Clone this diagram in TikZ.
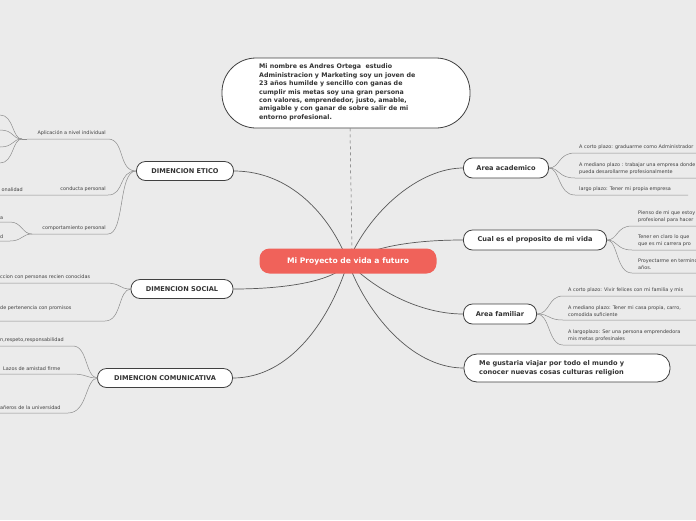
\documentclass[tikz,border=0pt]{standalone}
\usepackage{fontspec}
\setmainfont{DejaVu Sans}
\definecolor{coral}{RGB}{240,98,90}
\begin{document}
\begin{tikzpicture}[x=1pt,y=-1pt,
  topic/.style={draw=black!75,line width=0.8pt,fill=white,rounded corners=9pt,font=\fontsize{6.6}{8}\selectfont\bfseries,text=black!80,inner sep=0pt},
  main/.style={draw=black!65,line width=0.7pt},
  sub/.style={draw=black!45,line width=0.5pt},
  leaf/.style={font=\fontsize{4.9}{7}\selectfont,text=black!75,inner sep=0pt,align=left}]
\fill[black!8] (0,0) rectangle (696,520);
\useasboundingbox (0,0) rectangle (696,520);
\clip (0,0) rectangle (696,520);
% bio
\node[draw=black!75,line width=0.8pt,fill=white,rounded corners=34pt,minimum width=248pt,minimum height=70pt] (bio) at (346,93) {};
\node[font=\fontsize{6.3}{8.4}\selectfont\bfseries,text=black!80,align=left,anchor=north west,inner sep=0pt] (biot) at (259,64) {Mi nombre es Andres Ortega\ \ estudio\\Administracion y Marketing soy un joven de\\23 años humilde y sencillo con ganas de\\cumplir mis metas soy una gran persona\\con valores, emprendedor, justo, amable,\\amigable y con ganar de sobre salir de mi\\entorno profesional.};
% topics
\node[topic,minimum width=97pt,minimum height=19pt] (et) at (185,171) {DIMENCION ETICO};
\node[topic,minimum width=102pt,minimum height=19pt] (so) at (182,289) {DIMENCION SOCIAL};
\node[topic,minimum width=135pt,minimum height=19pt] (co) at (165,378) {DIMENCION COMUNICATIVA};
\node[topic,minimum width=85pt,minimum height=20pt] (ac) at (506,168) {Area academico};
\node[topic,minimum width=143pt,minimum height=20pt] (pr) at (535,240) {Cual es el proposito de mi vida};
\node[topic,minimum width=73pt,minimum height=20pt] (fa) at (500,314) {Area familiar};
\node[topic,minimum width=206pt,minimum height=28pt,rounded corners=13pt] (vi) at (567,368) {};
\node[font=\fontsize{6.6}{8.6}\selectfont\bfseries,text=black!80,align=left,anchor=west,inner sep=0pt] (vit) at (479,368) {Me gustaria viajar por todo el mundo y\\conocer nuevas cosas culturas religion};
% main connectors
\coordinate (cc) at (348,262);
\draw[black!60,dashed,line width=0.5pt] ([xshift=4pt]bio.south) -- (352,250);
\draw[main] (cc) .. controls (330,215) and (290,171) .. (et.east);
\draw[main] (cc) .. controls (338,280) and (290,289) .. (so.east);
\draw[main] (cc) .. controls (330,320) and (290,378) .. (co.east);
\draw[main] (cc) .. controls (370,210) and (420,168) .. (ac.west);
\draw[main] (cc) .. controls (375,245) and (420,240) .. (pr.west);
\draw[main] (cc) .. controls (375,290) and (420,314) .. (fa.west);
\draw[main] (cc) .. controls (365,310) and (410,368) .. (vi.west);
% central
\node[fill=coral,rounded corners=10pt,minimum width=177pt,minimum height=25pt,text=white,font=\fontsize{7.6}{9}\selectfont\bfseries,inner sep=0pt] (c) at (348,261) {Mi Proyecto de vida a futuro};
% ETICO leaves
\coordinate (e0) at (136,171);
\node[leaf,anchor=south east] (l1) at (106,136) {Aplicación a nivel individual};
\node[leaf,anchor=south east] (l2) at (106,192) {conducta personal};
\node[leaf,anchor=south east] (l3) at (106,231) {comportamiento personal};
\draw[sub] (e0) .. controls (118,171) and (125,139) .. (108,139) -- (27,139);
\draw[sub] (e0) .. controls (118,171) and (125,195) .. (108,195) -- (0,195);
\draw[sub] (e0) .. controls (118,171) and (125,234) .. (108,234) -- (32,234);
\coordinate (a0) at (22,139);
\draw[sub,line width=1pt] (a0) -- (27,139);
\foreach \y in {115,130,147,163}{\draw[sub] (a0) .. controls (12,139) and (14,\y) .. (0,\y);}
\node[leaf,anchor=south east] (l2b) at (23,192) {onalidad};
\coordinate (a3) at (32,234);
\draw[sub] (a3) .. controls (22,234) and (22,222) .. (10,222) -- (0,222);
\draw[sub] (a3) .. controls (22,234) and (22,241) .. (10,241) -- (0,241);
\node[leaf,anchor=south west] (l3a) at (0,220) {a};
\node[leaf,anchor=south west] (l3b) at (0,239) {d};
% SOCIAL leaves
\coordinate (s0) at (131,289);
\draw[sub] (s0) .. controls (118,289) and (122,283) .. (105,283) -- (0,283);
\draw[sub] (s0) .. controls (118,289) and (122,321) .. (105,321) -- (0,321);
\node[leaf,anchor=south west] (s1) at (0,280) {ccion con personas recien conocidas};
\node[leaf,anchor=south west] (s2) at (0,311) {de pertenencia con promisos};
% COMUNICATIVA leaves
\coordinate (k0) at (98,378);
\draw[sub] (k0) .. controls (85,378) and (88,346) .. (73,346) -- (0,346);
\draw[sub] (k0) .. controls (85,378) and (88,374) .. (71,374) -- (0,374);
\draw[sub] (k0) .. controls (85,378) and (88,413) .. (68,413) -- (0,413);
\node[leaf,anchor=south west] (k1) at (0,343) {n,respeto,responsabilidad};
\node[leaf,anchor=south west] (k2) at (3,371) {Lazos de amistad firme};
\node[leaf,anchor=south west] (k3) at (0,410) {añeros de la universidad};
% ACADEMICO leaves
\coordinate (r0) at (549,168);
\draw[sub] (r0) .. controls (560,168) and (558,153) .. (575,153) -- (696,153);
\draw[sub] (r0) .. controls (560,168) and (558,178) .. (575,178) -- (696,178);
\draw[sub] (r0) .. controls (560,168) and (558,195) .. (575,195) -- (688,195);
\node[leaf,anchor=south west] (r1) at (579,150) {A corto plazo: graduarme como Administrador};
\node[leaf,anchor=south west] (r2) at (579,175) {A mediano plazo : trabajar una empresa donde\\pueda desarollarme profesionalmente};
\node[leaf,anchor=south west] (r3) at (579,192) {largo plazo: Tener mi propia empresa};
% PROPOSITO leaves
\coordinate (p0) at (607,240);
\draw[sub] (p0) .. controls (618,240) and (616,226) .. (632,226) -- (696,226);
\draw[sub] (p0) .. controls (618,240) and (616,250) .. (632,250) -- (696,250);
\draw[sub] (p0) .. controls (618,240) and (616,273) .. (632,273) -- (696,273);
\node[leaf,anchor=south west] (p1) at (638,223) {Pienso de mi que estoy\\profesional para hacer};
\node[leaf,anchor=south west] (p2) at (638,247) {Tener en claro lo que\\que es mi carrera pro};
\node[leaf,anchor=south west] (p3) at (638,270) {Proyectarme en termino\\años.};
% FAMILIAR leaves
\coordinate (f0) at (537,314);
\draw[sub] (f0) .. controls (550,314) and (548,296) .. (563,296) -- (696,296);
\draw[sub] (f0) .. controls (550,314) and (548,320) .. (563,320) -- (696,320);
\draw[sub] (f0) .. controls (550,314) and (548,345) .. (563,345) -- (696,345);
\node[leaf,anchor=south west] (f1) at (568,293) {A corto plazo: Vivir felices con mi familia y mis};
\node[leaf,anchor=south west] (f2) at (568,317) {A mediano plazo: Tener mi casa propia, carro,\\comodida suficiente};
\node[leaf,anchor=south west] (f3) at (568,342) {A largoplazo: Ser una persona emprendedora\\mis metas profesinales};
\end{tikzpicture}
\end{document}
